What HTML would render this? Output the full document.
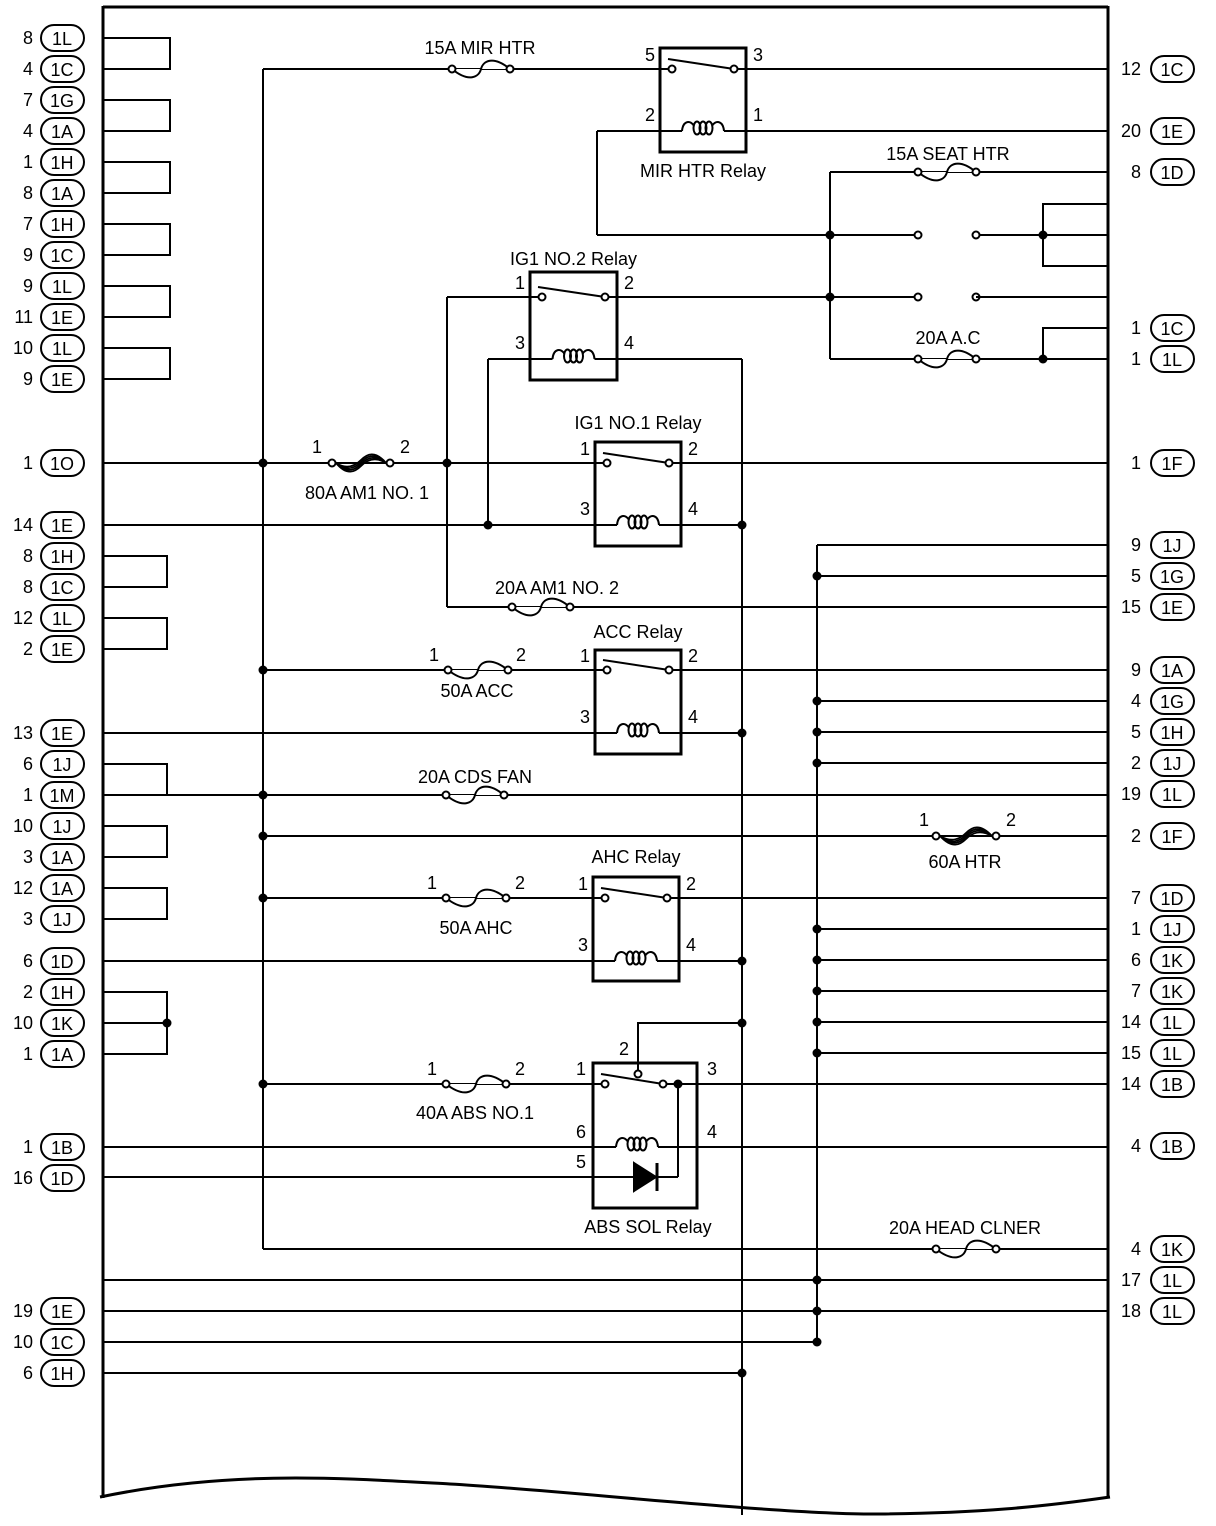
<!DOCTYPE html>
<html><head><meta charset="utf-8"><style>
html,body{margin:0;padding:0;background:#fff}
svg{display:block}
text{font-family:"Liberation Sans",sans-serif;font-size:18px;fill:#000}
</style></head><body>
<svg id="s" width="1216" height="1526" viewBox="0 0 1216 1526" xmlns="http://www.w3.org/2000/svg">
<g id="g" stroke="#000" stroke-width="2" fill="none"></g>
<g id="t"></g>
</svg>
<script>
const g=document.getElementById('g'),t=document.getElementById('t');
const NS='http://www.w3.org/2000/svg';
function el(p,n,a){const e=document.createElementNS(NS,n);for(const k in a)e.setAttribute(k,a[k]);p.appendChild(e);return e;}
function L(x1,y1,x2,y2,w){el(g,'line',{x1,y1,x2,y2,'stroke-width':w||2});}
function P(d,w,f){el(g,'path',{d,'stroke-width':w||2,fill:f||'none'});}
function D(x,y){el(g,'circle',{cx:x,cy:y,r:4.5,fill:'#000',stroke:'none'});}
function C(x,y){el(g,'circle',{cx:x,cy:y,r:3.5,fill:'#fff','stroke-width':2});}
function T(x,y,s,anchor){const e=el(t,'text',{x,y,'text-anchor':anchor||'middle'});e.textContent=s;}
function conn(side,y,n,id){
  if(side==='L'){T(33,y+6,n,'end');el(g,'rect',{x:41,y:y-13,width:43,height:26,rx:13,'stroke-width':2});T(62,y+7,id);}
  else{T(1141,y+6,n,'end');el(g,'rect',{x:1151,y:y-13,width:43,height:26,rx:13,'stroke-width':2});T(1172,y+7,id);}
}
function fuse(x1,x2,y){
  const m=(x1+x2)/2;
  P(`M${x1} ${y} C${m-12} ${y+14} ${m-2} ${y+8} ${m} ${y} S${m+12} ${y-14} ${x2} ${y}`,2,'#fff');
  C(x1,y);C(x2,y);
}
function hfuse(x1,x2,y){
  const m=(x1+x2)/2;
  for(let d=-3;d<=3;d+=2)P(`M${x1+4} ${y} C${m-14} ${y+10+d} ${m-6} ${y+6+d} ${m} ${y+d} S${m+14} ${y-10+d} ${x2-4} ${y}`,1.8);
  C(x1,y);C(x2,y);
}
function coil(x,y){
  P(`M${x-21} ${y} C${x-20} ${y-11} ${x-12} ${y-11} ${x-9} ${y-5}`,2);
  P(`M${x+9} ${y-5} C${x+12} ${y-11} ${x+20} ${y-11} ${x+21} ${y}`,2);
  [-6,0,6].forEach(d=>el(g,'ellipse',{cx:x+d,cy:y-3,rx:3.5,ry:6.5,'stroke-width':2}));
}
function relay(x1,y1,x2,y2,sy,cy,lab,labY,nums){
  const m=(x1+x2)/2;
  L(x1,sy,x1+12,sy);L(x2-12,sy,x2,sy);
  L(x1,cy,m-21,cy);L(m+21,cy,x2,cy);
  coil(m,cy);
  el(g,'rect',{x:x1,y:y1,width:x2-x1,height:y2-y1,'stroke-width':3,fill:'none'});
  L(x1+8,sy-10,x2-12,sy,2);
  C(x1+12,sy);C(x2-12,sy);
  if(lab)T(m,labY,lab);
  T(x1-10,sy-8,nums[0]);T(x2+12,sy-8,nums[1]);T(x1-10,cy-10,nums[2]);T(x2+12,cy-10,nums[3]);
}
L(103,7,1108,7,3);L(103,6,103,1498,3);L(1108,6,1108,1498,3);
P('M100 1497 C230 1470 340 1478 450 1484 S780 1515 880 1514 S1040 1507 1110 1497',3);
const lrows=[[38,'8','1L'],[69,'4','1C'],[100,'7','1G'],[131,'4','1A'],[162,'1','1H'],[193,'8','1A'],[224,'7','1H'],[255,'9','1C'],[286,'9','1L'],[317,'11','1E'],[348,'10','1L'],[379,'9','1E'],
[463,'1','1O'],[525,'14','1E'],[556,'8','1H'],[587,'8','1C'],[618,'12','1L'],[649,'2','1E'],[733,'13','1E'],[764,'6','1J'],[795,'1','1M'],[826,'10','1J'],[857,'3','1A'],[888,'12','1A'],[919,'3','1J'],[961,'6','1D'],[992,'2','1H'],[1023,'10','1K'],[1054,'1','1A'],[1147,'1','1B'],[1178,'16','1D'],[1311,'19','1E'],[1342,'10','1C'],[1373,'6','1H']];
lrows.forEach(r=>conn('L',r[0],r[1],r[2]));
[[38,69,170],[100,131,170],[162,193,170],[224,255,170],[286,317,170],[348,379,170],[556,587,167],[618,649,167],[764,795,167],[826,857,167],[888,919,167]].forEach(a=>{P(`M103 ${a[0]} H${a[2]} V${a[1]} H103`,2);});
P('M103 992 H167 V1054 H103',2);L(103,1023,167,1023);D(167,1023);
const rrows=[[69,'12','1C'],[131,'20','1E'],[172,'8','1D'],[328,'1','1C'],[359,'1','1L'],[463,'1','1F'],[545,'9','1J'],[576,'5','1G'],[607,'15','1E'],[670,'9','1A'],[701,'4','1G'],[732,'5','1H'],[763,'2','1J'],[794,'19','1L'],[836,'2','1F'],[898,'7','1D'],[929,'1','1J'],[960,'6','1K'],[991,'7','1K'],[1022,'14','1L'],[1053,'15','1L'],[1084,'14','1B'],[1146,'4','1B'],[1249,'4','1K'],[1280,'17','1L'],[1311,'18','1L']];
rrows.forEach(r=>conn('R',r[0],r[1],r[2]));
L(263,69,263,1249);
L(742,359,742,1515);
L(817,545,817,1342);
L(447,297,447,607);
L(488,359,488,525);
L(830,172,830,359);
L(597,131,597,235);
L(263,69,660,69);L(746,69,1108,69);fuse(452,510,69);T(480,54,'15A MIR HTR');
L(597,131,660,131);L(746,131,1108,131);
relay(660,48,746,152,69,131,'MIR HTR Relay',177,['5','3','2','1']);
L(597,235,918,235);C(918,235);L(976,235,1108,235);C(976,235);D(830,235);
P('M1108 204 H1043 V266 H1108',2);D(1043,235);
L(830,172,1108,172);fuse(918,976,172);T(948,160,'15A SEAT HTR');
L(447,297,530,297);L(617,297,918,297);C(918,297);C(976,297);L(976,297,1108,297);D(830,297);
L(830,359,1108,359);fuse(918,976,359);T(948,344,'20A A.C');
P('M1108 328 H1043 V359',2);D(1043,359);
L(488,359,530,359);L(617,359,742,359);
relay(530,272,617,380,297,359,'IG1 NO.2 Relay',265,['1','2','3','4']);
L(103,463,595,463);L(681,463,1108,463);hfuse(332,390,463);T(317,453,'1');T(405,453,'2');T(367,499,'80A AM1 NO. 1');D(263,463);D(447,463);
relay(595,442,681,546,463,525,'IG1 NO.1 Relay',429,['1','2','3','4']);
L(103,525,595,525);L(681,525,742,525);D(488,525);D(742,525);
L(447,607,1108,607);fuse(512,570,607);T(557,594,'20A AM1 NO. 2');
L(263,670,595,670);L(681,670,1108,670);fuse(448,508,670);T(434,661,'1');T(521,661,'2');T(477,697,'50A ACC');D(263,670);
relay(595,650,681,754,670,733,'ACC Relay',638,['1','2','3','4']);
L(103,733,595,733);L(681,733,742,733);D(742,733);
L(103,795,1108,795);fuse(446,504,795);T(475,783,'20A CDS FAN');D(263,795);
L(263,836,1108,836);hfuse(936,996,836);T(924,826,'1');T(1011,826,'2');T(965,868,'60A HTR');D(263,836);
L(263,898,593,898);L(679,898,1108,898);fuse(446,506,898);T(432,889,'1');T(520,889,'2');T(476,934,'50A AHC');D(263,898);
relay(593,877,679,981,898,961,'AHC Relay',863,['1','2','3','4']);
L(103,961,593,961);L(679,961,742,961);D(742,961);
P('M742 1023 H638 V1074',2);D(742,1023);
L(263,1084,593,1084);L(697,1084,1108,1084);fuse(446,506,1084);T(432,1075,'1');T(520,1075,'2');T(475,1119,'40A ABS NO.1');D(263,1084);
L(593,1084,605,1084);L(663,1084,697,1084);
L(103,1147,616,1147);L(658,1147,1108,1147);
coil(637,1147);
L(103,1177,678,1177);L(678,1084,678,1177);
el(g,'polygon',{points:'634,1163 634,1191 656,1177',fill:'#000'});L(657,1163,657,1191,3);
el(g,'rect',{x:593,y:1063,width:104,height:145,'stroke-width':3,fill:'none'});
L(601,1074,663,1084);C(605,1084);C(663,1084);C(638,1074);D(678,1084);
T(581,1075,'1');T(624,1055,'2');T(712,1075,'3');T(712,1138,'4');T(581,1138,'6');T(581,1168,'5');T(648,1233,'ABS SOL Relay');
L(263,1249,1108,1249);fuse(936,996,1249);T(965,1234,'20A HEAD CLNER');
L(103,1280,1108,1280);L(103,1311,1108,1311);L(103,1342,817,1342);L(103,1373,742,1373);D(742,1373);
[545,576,701,732,763,929,960,991,1022,1053].forEach(y=>L(817,y,1108,y));
[576,701,732,763,929,960,991,1022,1053,1280,1311,1342].forEach(y=>D(817,y));
</script>
</body></html>
